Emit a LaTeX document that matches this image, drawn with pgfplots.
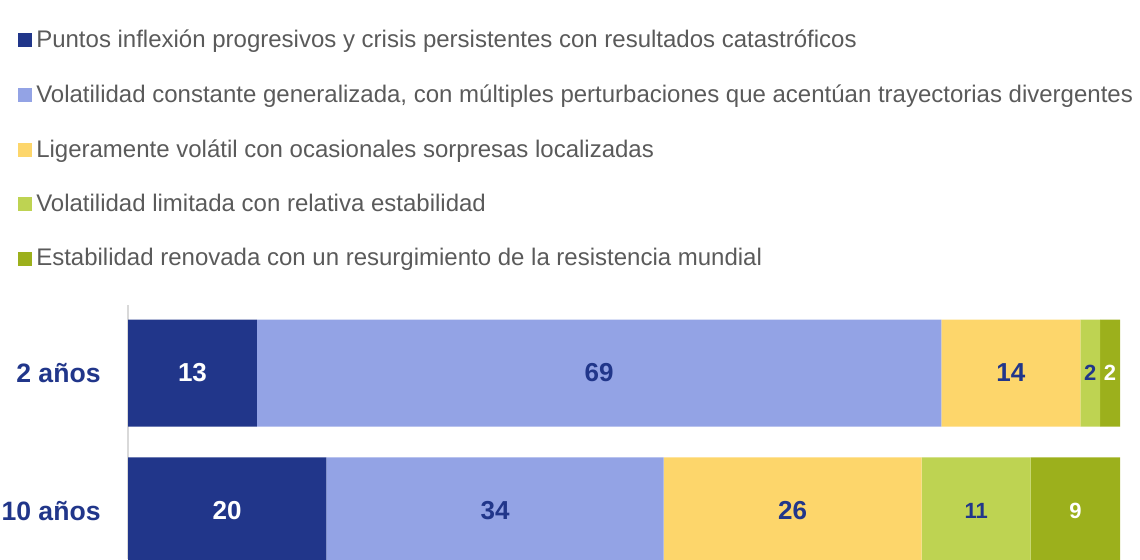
\documentclass[border=0pt]{standalone}
\usepackage{pgfplots}
\pgfplotsset{compat=1.18}
\usepackage{fontspec}
\setmainfont{Liberation Sans}
\definecolor{cA}{HTML}{21368A}
\definecolor{cB}{HTML}{93A3E5}
\definecolor{cC}{HTML}{FDD66B}
\definecolor{cD}{HTML}{BED352}
\definecolor{cE}{HTML}{9CB01C}
\definecolor{txt}{HTML}{5A5A5A}
\begin{document}
\begin{tikzpicture}
\useasboundingbox (0,0) rectangle (570pt,279.5pt);
\begin{axis}[
  at={(64pt,0pt)}, anchor=south west,
  scale only axis, width=496pt, height=127pt,
  xbar stacked, bar width=53.5pt,
  xmin=0, xmax=100, ymin=-0.348, ymax=1.493,
  axis x line=none,
  axis y line*=left,
  y axis line style={draw=black!15, line width=1pt, -},
  ytick={0,1}, yticklabels={10 años,2 años},
  ytick style={draw=none}, major tick length=0pt,
  yticklabel style={font=\bfseries\fontsize{13.3}{13.3}\selectfont, text=cA, inner sep=0pt, xshift=-13.5pt},
  /pgf/number format/assume math mode=true,
  nodes near coords,
  every node near coord/.append style={font=\bfseries\fontsize{13}{13}\selectfont},
  legend style={at={(axis description cs:-0.111,2.10)}, anchor=north west, draw=none, fill=none,
    font=\fontsize{12}{14}\selectfont, text=txt, row sep=13pt, inner sep=0pt},
  legend cell align=left,
  legend image code/.code={\fill[#1] (0pt,-3.5pt) rectangle (7pt,3.5pt);},
]
\addplot+[fill=cA, draw=none, every node near coord/.append style={text=white}] coordinates {(20,0) (13,1)};
\addplot+[fill=cB, draw=none, every node near coord/.append style={text=cA}] coordinates {(34,0) (69,1)};
\addplot+[fill=cC, draw=none, every node near coord/.append style={text=cA}] coordinates {(26,0) (14,1)};
\addplot+[fill=cD, draw=none, every node near coord/.append style={text=cA, font=\bfseries\fontsize{11}{11}\selectfont}] coordinates {(11,0) (2,1)};
\addplot+[fill=cE, draw=none, every node near coord/.append style={text=white, font=\bfseries\fontsize{11}{11}\selectfont}] coordinates {(9,0) (2,1)};
\legend{Puntos inflexión progresivos y crisis persistentes con resultados catastróficos,
Volatilidad constante generalizada{,} con múltiples perturbaciones que acentúan trayectorias divergentes,
Ligeramente volátil con ocasionales sorpresas localizadas,
Volatilidad limitada con relativa estabilidad,
Estabilidad renovada con un resurgimiento de la resistencia mundial}
\end{axis}
\end{tikzpicture}
\end{document}
